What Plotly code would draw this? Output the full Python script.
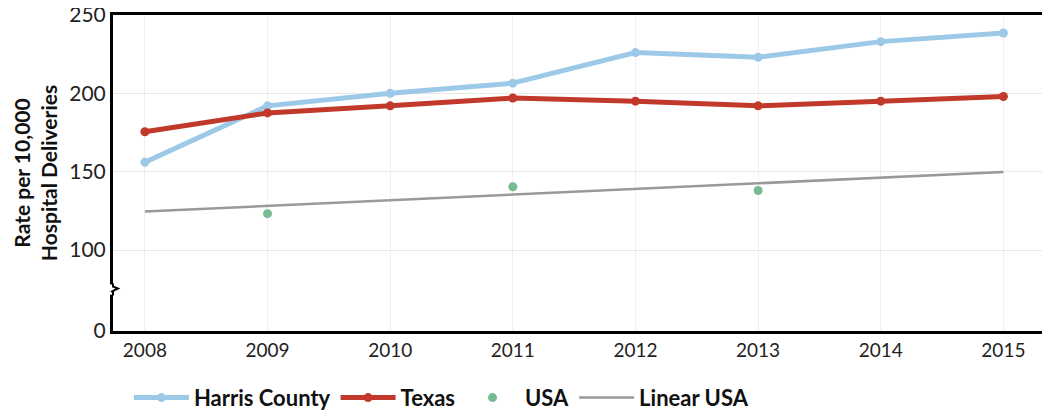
import plotly.graph_objects as go

years = [2008, 2009, 2010, 2011, 2012, 2013, 2014, 2015]
harris = [156, 192, 200, 206.5, 226, 223, 233, 238.5]
texas = [175.5, 187.5, 192, 197, 195, 192, 195, 198]
usa_years = [2009, 2011, 2013]
usa = [123.2, 140.4, 138]
linear_years = [2008, 2015]
linear_usa = [124.5, 149.8]

tick_vals = [48.3, 100, 150, 200, 250]
tick_text = ["0", "100", "150", "200", "250"]

FONT = "Lato"

fig = go.Figure()
fig.add_trace(go.Scatter(x=years, y=harris, name="Harris County", mode="lines+markers",
                         line=dict(color="#9dc9e8", width=5), marker=dict(size=9, color="#9dc9e8")))
fig.add_trace(go.Scatter(x=years, y=texas, name="Texas", mode="lines+markers",
                         line=dict(color="#c0392b", width=5), marker=dict(size=9, color="#c0392b")))
fig.add_trace(go.Scatter(x=usa_years, y=usa, name="USA", mode="markers",
                         marker=dict(size=9, color="#77bb93")))
fig.add_trace(go.Scatter(x=linear_years, y=linear_usa, name="Linear USA", mode="lines",
                         line=dict(color="#999999", width=2.5)))

# page body has an 8px margin, so the figure is laid out from (8, 8)
fig.update_layout(
    width=1042, height=402,
    margin=dict(l=105, r=0, t=7, b=79, autoexpand=False),
    paper_bgcolor="white", plot_bgcolor="white",
    font=dict(family=FONT, size=19, color="#222222"),
    showlegend=True,
    legend=dict(orientation="h", x=0.017, xanchor="left", y=-0.145, yanchor="top",
                font=dict(family=FONT, size=22, color="#111111", weight="bold"),
                itemwidth=55, tracegroupgap=0),
    xaxis=dict(range=[2007.74, 2015.38], tickvals=years, showgrid=True, gridcolor="#f0f0f0",
               gridwidth=1, showline=True, linecolor="black", linewidth=3, mirror=True,
               ticks="", zeroline=False, tickfont=dict(size=19), automargin=False,
               ticklabeloverflow="allow"),
    yaxis=dict(range=[48.3, 250], tickvals=tick_vals, ticktext=tick_text, showgrid=True,
               gridcolor="#e8e8e8", gridwidth=1, showline=True, linecolor="black", linewidth=3,
               ticks="", zeroline=False, tickfont=dict(size=21), automargin=False,
               ticklabeloverflow="allow",
               title=dict(text="Rate per 10,000<br>Hospital Deliveries", standoff=6,
                          font=dict(size=21, weight="bold", color="#111111"))),
)

# axis break marker
fig.add_shape(type="rect", xref="paper", yref="y", xsizemode="pixel", xanchor=0,
              x0=-3, x1=3, y0=71.5, y1=78, fillcolor="white", line=dict(width=0), layer="above")
fig.add_shape(type="path", xref="paper", yref="y", xsizemode="pixel", ysizemode="pixel",
              xanchor=0, yanchor=74.8,
              path="M0,6 L0,3 L5,1 L-1,-2 L0,-3 L0,-6",
              line=dict(color="black", width=2), layer="above")

fig.write_html("out.html")
